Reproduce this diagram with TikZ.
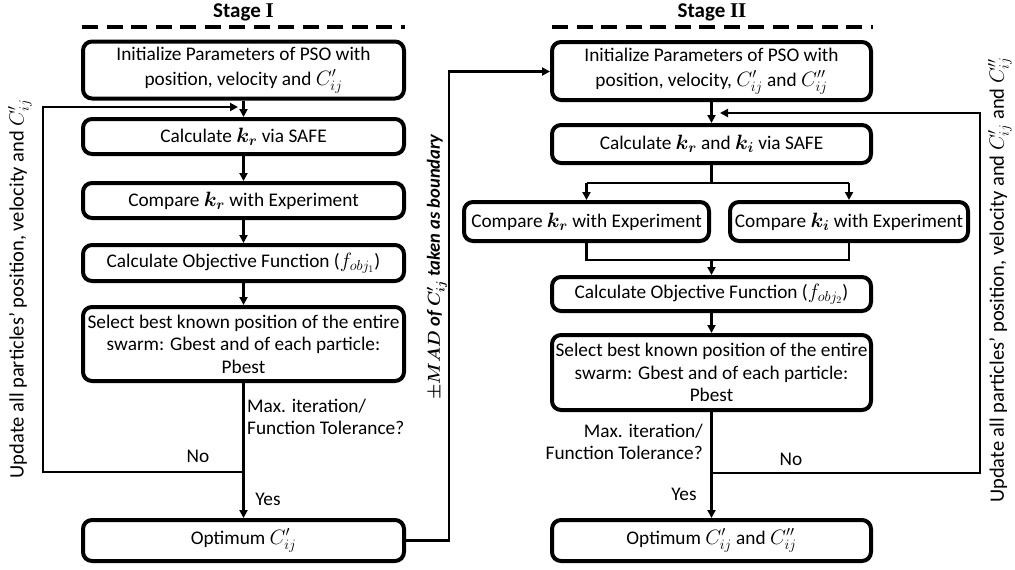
\documentclass[tikz,border=0pt]{standalone}
\usepackage{amsmath,bm}
\usepackage{fontspec}
\setmainfont{Carlito}
\newfontfamily\romanI{Liberation Serif}
\usetikzlibrary{arrows.meta,calc}
\begin{document}
\begin{tikzpicture}[x=1pt,y=-1pt,
  font=\fontsize{19.3}{22.5}\selectfont,
  box/.style={draw, line width=4pt, rounded corners=9pt, align=center, inner sep=1pt},
  lbox/.style={box, minimum width=321pt},
  wide/.style={font=\fontsize{19.3}{25}\selectfont},
  conn/.style={line width=2.4pt, -{Triangle[length=8pt,width=8pt]}},
  wire/.style={line width=2.4pt},
  fbarrow/.style={line width=2pt, -{Triangle[length=8pt,width=8pt]}},
  dashline/.style={line width=4pt, dash pattern=on 16pt off 8.5pt},
  lbl/.style={inner sep=0pt},
  side/.style={lbl, rotate=90, font=\fontsize{20.5}{24}\selectfont}]
\useasboundingbox (0,0) rectangle (1015,570);

% titles
\node[lbl, font=\fontsize{21}{24}\selectfont] (t1) at (243.5,12) {\bfseries Stage {\romanI\bfseries I}};
\node[lbl, font=\fontsize{21}{24}\selectfont] (t2) at (712,12) {\bfseries Stage {\romanI\bfseries II}};
\draw[dashline] (82,27) -- (405,27);
\draw[dashline] (552,27) -- (873,27);

% Stage I
\node[lbox, wide, minimum height=57pt] (L1) at (243.5,70) {Initialize Parameters of PSO with\\position, velocity and $C'_{ij}$};
\node[lbox, minimum height=35pt] (L2) at (243.5,136.5) {Calculate $\bm{k_r}$ via SAFE};
\node[lbox, minimum height=35pt] (L3) at (243.5,200.5) {Compare $\bm{k_r}$ with Experiment};
\node[lbox, minimum height=36pt] (L4) at (243.5,263) {Calculate Objective Function ($f_{obj_1}$)};
\node[lbox, minimum height=74pt] (L5) at (243.5,344) {Select best known position of the entire\\swarm: Gbest and of each particle:\\Pbest};
\node[lbox, minimum height=41pt] (L6) at (243.5,540.5) {Optimum $C'_{ij}$};

\draw[conn] (L1) -- (L2);
\draw[conn] (L2) -- (L3);
\draw[conn] (L3) -- (L4);
\draw[conn] (L4) -- (L5);
\draw[conn] (L5) -- (L6);
\coordinate (Ldec) at (243.5,472);
\coordinate (Lin) at (238,107);
\draw[fbarrow] (Ldec) -- (43,472) -- (43,107) -- (Lin);

\node[lbl, anchor=west, align=left] (Lq) at (247,417) {Max. iteration/\\Function Tolerance?};
\node[lbl] (Lno) at (198,456) {No};
\node[lbl] (Lyes) at (268,499) {Yes};

\node[side] (Lup) at (20,289) {Update all particles’ position, velocity and $C'_{ij}$};

% link between stages
\node[box, wide, minimum width=319pt, minimum height=58pt] (R1) at (711.5,71) {Initialize Parameters of PSO with\\position, velocity, $C'_{ij}$ and $C''_{ij}$};
\coordinate (bend) at (449,71.5);
\draw[conn] (L6.east) -| (bend) -- (bend -| R1.west);
\node[lbl, rotate=90, font=\fontsize{18.5}{22}\selectfont] (mad) at (437,267) {\bfseries\itshape $\bm{\pm MAD}$ of $\bm{C'_{ij}}$ taken as boundary};

% Stage II
\node[box, minimum width=319pt, minimum height=38pt] (R2) at (711.5,144) {Calculate $\bm{k_r}$ and $\bm{k_i}$ via SAFE};
\node[box, minimum width=245pt, minimum height=39pt] (R3a) at (586.5,221.5) {Compare $\bm{k_r}$ with Experiment};
\node[box, minimum width=238pt, minimum height=39pt] (R3b) at (849,221.5) {Compare $\bm{k_i}$ with Experiment};
\node[box, minimum width=319pt, minimum height=34pt] (R4) at (711.5,294) {Calculate Objective Function ($f_{obj_2}$)};
\node[box, minimum width=319pt, minimum height=75pt] (R5) at (711.5,372.5) {Select best known position of the entire\\swarm: Gbest and of each particle:\\Pbest};
\node[box, minimum width=319pt, minimum height=41pt] (R6) at (711.5,540.5) {Optimum $C'_{ij}$ and $C''_{ij}$};

\draw[conn] (R1) -- (R2);
\coordinate (split) at (711.5,183);
\coordinate (merge) at (711.5,260);
\draw[wire] (R2.south) -- (split);
\draw[wire] (R3a.north |- split) -- (R3b.north |- split);
\draw[conn] (R3a.north |- split) -- (R3a.north);
\draw[conn] (R3b.north |- split) -- (R3b.north);
\draw[wire] (R3a.south) -- (R3a.south |- merge) -- (R3b.south |- merge) -- (R3b.south);
\draw[conn] (merge) -- (R4.north);
\draw[conn] (R4) -- (R5);
\draw[conn] (R5) -- (R6);
\coordinate (Rdec) at (711.5,473);
\coordinate (Rin) at (720,113);
\draw[fbarrow] (Rdec) -- (980,473) -- (980,113) -- (Rin);

\node[lbl, anchor=east, align=right] (Rq) at (703,442) {Max. iteration/\\Function Tolerance?};
\node[lbl] (Rno) at (791,459) {No};
\node[lbl] (Ryes) at (684,494) {Yes};

\node[side] (Rup) at (1000,280) {Update all particles’ position, velocity and $C'_{ij}$ and $C''_{ij}$};
\end{tikzpicture}
\end{document}
